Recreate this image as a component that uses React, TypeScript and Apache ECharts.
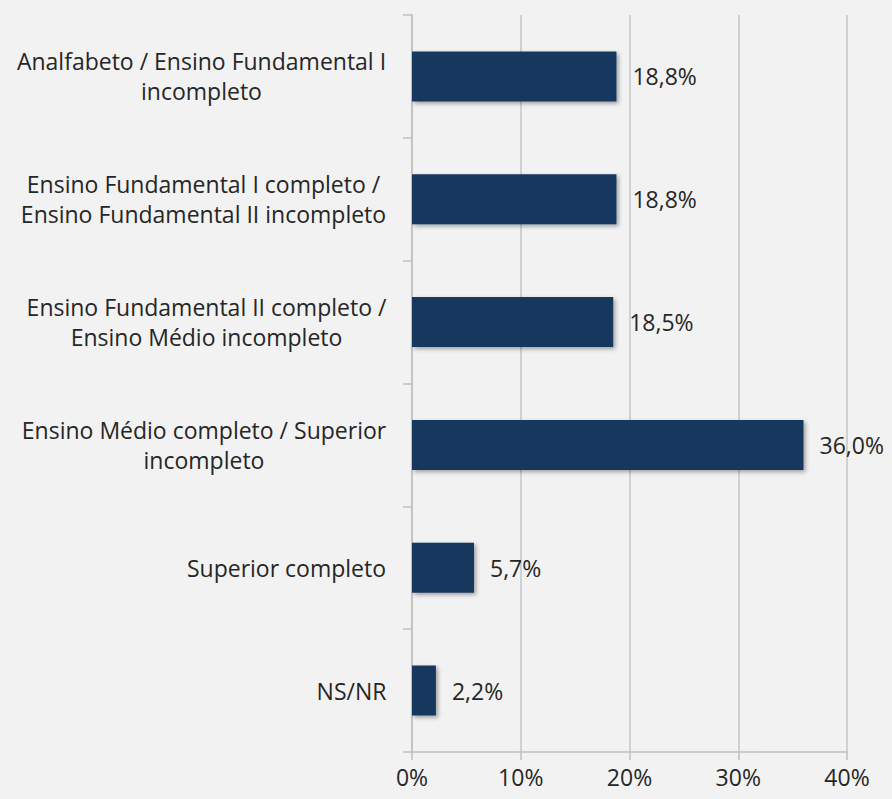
import React, { useEffect, useRef } from "react";
import * as echarts from "echarts";

const categories: string[][] = [
  ["Analfabeto / Ensino Fundamental I", "incompleto"],
  ["Ensino Fundamental I completo /", "Ensino Fundamental II incompleto"],
  ["Ensino Fundamental II completo /", "Ensino Médio incompleto"],
  ["Ensino Médio completo / Superior", "incompleto"],
  ["Superior completo"],
  ["NS/NR"],
];
const values: number[] = [18.8, 18.8, 18.5, 36.0, 5.7, 2.2];
const xTicks: number[] = [0, 10, 20, 30, 40];

const FONT = "Open Sans";
const FS = 23;

export default function App() {
  const ref = useRef<HTMLDivElement>(null);
  useEffect(() => {
    if (!ref.current) return;
    const chart = echarts.init(ref.current, undefined, { renderer: "svg" });
    const canvas = document.createElement("canvas");
    const ctx = canvas.getContext("2d")!;
    ctx.font = `${FS}px "${FONT}"`;
    const rich: Record<string, any> = {};
    categories.forEach((lines, i) => {
      const w = Math.max(...lines.map((l) => ctx.measureText(l).width));
      rich["r" + i] = {
        width: Math.ceil(w) + 1,
        align: "center",
        fontFamily: FONT,
        fontSize: FS,
        color: "#262626",
        lineHeight: 30,
      };
    });
    chart.setOption({
      animation: false,
      backgroundColor: "#f2f2f2",
      grid: { left: 412, right: 45, top: 15, bottom: 47, containLabel: false },
      xAxis: {
        type: "value",
        min: 0,
        max: 40,
        interval: 10,
        axisLine: { show: true, lineStyle: { color: "#bfbfbf", width: 1.5 } },
        axisTick: { show: true, length: 8, lineStyle: { color: "#bfbfbf", width: 1.5 } },
        splitLine: { show: true, lineStyle: { color: "#c6c6c6", width: 1.5 } },
        axisLabel: {
          formatter: (v: number) => (xTicks.includes(v) ? v + "%" : ""),
          fontFamily: FONT,
          fontSize: FS,
          color: "#262626",
          margin: 13,
        },
      },
      yAxis: {
        type: "category",
        inverse: true,
        data: categories.map((c) => c.join("\n")),
        axisLine: { show: true, lineStyle: { color: "#bfbfbf", width: 1.5 } },
        axisTick: { show: true, length: 9, lineStyle: { color: "#bfbfbf", width: 1.5 } },
        axisLabel: {
          margin: 25,
          formatter: (_v: string, idx: number) =>
            categories[idx].map((l) => `{r${idx}|${l}}`).join("\n"),
          rich,
        },
      },
      series: [
        {
          type: "bar",
          data: values,
          barWidth: 50,
          itemStyle: {
            color: "#17375e",
            shadowBlur: 4,
            shadowOffsetX: 2,
            shadowOffsetY: 2,
            shadowColor: "rgba(0,0,0,0.35)",
          },
          label: {
            show: true,
            position: "right",
            distance: 16,
            formatter: (p: any) => p.value.toFixed(1).replace(".", ",") + "%",
            fontFamily: FONT,
            fontSize: FS,
            color: "#262626",
          },
        },
      ],
    });
    return () => chart.dispose();
  }, []);
  return <div ref={ref} style={{ width: 892, height: 799, position: "absolute", left: 0, top: 0 }} />;
}
